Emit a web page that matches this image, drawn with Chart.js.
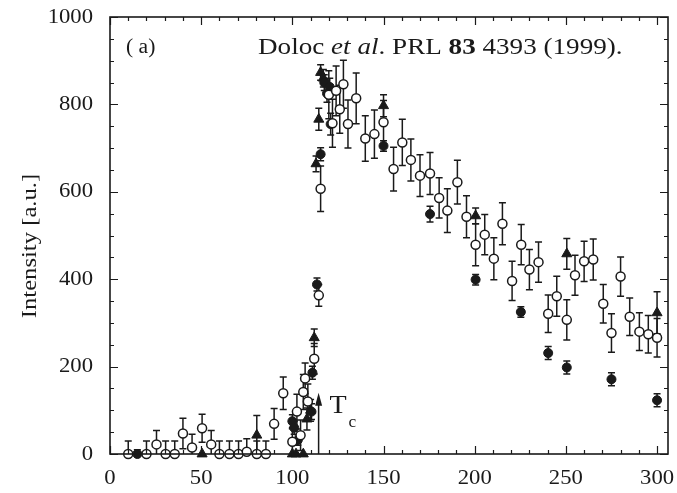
<!DOCTYPE html>
<html>
<head>
<meta charset="utf-8">
<script src="https://cdn.jsdelivr.net/npm/chart.js@4"></script>
<style>
  html, body { margin: 0; padding: 0; background: #fff; }
</style>
</head>
<body>
<canvas id="chart" width="677" height="493"></canvas>
<script>
// Temperature (K) axis values and measured intensities (a.u.) with their error bars.
const openT   = [10, 20, 25.5, 30.5, 35.5, 40, 45, 50.5, 55.5, 60, 65.5, 70.5, 75, 80.5, 85.5, 90, 95,
                 100, 102.5, 104.5, 106, 107, 108.5, 112, 114.5, 115.5, 120, 122, 124, 126, 128, 130.5,
                 135, 140, 145, 150, 155.5, 160.3, 165, 170, 175.5, 180.5, 185, 190.5, 195.5, 200.5,
                 205.5, 210.5, 215.2, 220.5, 225.5, 230, 235, 240.3, 245, 250.5, 255, 260, 265, 270.5,
                 275, 280, 285, 290.3, 295.2, 300];
const openI   = [0, 0, 22, 0, 0, 47, 15, 59, 22, 0, 0, 0, 5, 0, 0, 69, 139,
                 28, 97, 43, 142, 173, 120, 218, 363, 607, 822, 757, 831, 789, 846, 755,
                 814, 722, 732, 759, 652, 713, 673, 637, 642, 586, 557, 622, 543, 479,
                 502, 447, 527, 396, 479, 422, 439, 321, 361, 307, 409, 441, 445, 344,
                 277, 406, 314, 280, 274, 266];
const openErr = [30, 30, 32, 30, 30, 35, 30, 32, 32, 30, 30, 30, 30, 30, 30, 35, 37,
                 30, 40, 35, 40, 35, 40, 35, 25, 52, 55, 55, 57, 55, 55, 55,
                 58, 52, 55, 50, 50, 53, 48, 48, 48, 46, 50, 50, 48, 48,
                 46, 48, 48, 45, 46, 46, 46, 43, 46, 46, 46, 46, 47, 44,
                 44, 45, 43, 43, 43, 44];

const filledT   = [15, 100, 101, 103, 110.5, 111, 113.5, 115.5, 117.5, 119, 120.5, 121,
                   150, 175.5, 200.5, 225.3, 240.3, 250.5, 275, 300];
const filledI   = [0, 75, 60, 32, 97, 186, 388, 686, 850, 825, 840, 755,
                   705, 549, 399, 325, 231, 198, 171, 123];
const filledErr = [10, 15, 15, 12, 18, 15, 15, 15, 18, 20, 20, 25,
                   12, 18, 12, 12, 15, 15, 15, 15];

const triT   = [50.5, 80.5, 100, 102, 106, 108, 110, 112, 113, 114.5, 115.5, 117,
                150, 200.5, 250.5, 300];
const triI   = [0, 43, 0, 0, 0, 80, 100, 266, 664, 766, 873, 860,
                797, 545, 458, 323];
const triErr = [0, 45, 0, 0, 0, 25, 25, 20, 18, 25, 18, 20,
                25, 18, 35, 48];

// Axis ranges and tick labels
const xTickLabels = [0, 50, 100, 150, 200, 250, 300];
const yTickLabels = [0, 200, 400, 600, 800, 1000];
const xRange = [0, 306];
const yRange = [0, 1000];
const tcT = 114.4;      // transition temperature marker
const tcArrowTop = 140;

const INK = '#1a1a1a';
const SERIF = '"Liberation Serif", "Times New Roman", serif';
const SX = 1.08;        // horizontal text stretch

function toPoints(xs, ys) { return xs.map((x, i) => ({ x: x, y: ys[i] })); }

function stretchedText(ctx, str, x, y, align, sx) {
  ctx.save();
  ctx.translate(x, y);
  ctx.scale(sx || SX, 1);
  ctx.textAlign = align;
  ctx.fillText(str, 0, 0);
  ctx.restore();
}

const errorSets = [openErr, filledErr, triErr];

const decorations = {
  id: 'decorations',
  beforeDatasetsDraw(chart) {
    const ctx = chart.ctx;
    const xs = chart.scales.x, ys = chart.scales.y;
    ctx.save();
    ctx.strokeStyle = INK;
    ctx.lineWidth = 1.5;
    chart.data.datasets.forEach((ds, di) => {
      const errs = errorSets[di];
      ds.data.forEach((p, i) => {
        const e = errs[i];
        if (!e) return;
        const px = xs.getPixelForValue(p.x);
        const top = ys.getPixelForValue(Math.min(p.y + e, yRange[1]));
        const bot = ys.getPixelForValue(Math.max(p.y - e, yRange[0]));
        ctx.beginPath();
        ctx.moveTo(px, top); ctx.lineTo(px, bot);
        ctx.moveTo(px - 3.5, top); ctx.lineTo(px + 3.5, top);
        if (p.y - e > yRange[0]) { ctx.moveTo(px - 3.5, bot); ctx.lineTo(px + 3.5, bot); }
        ctx.stroke();
      });
    });
    ctx.restore();
  },
  afterDatasetsDraw(chart) {
    const ctx = chart.ctx;
    const a = chart.chartArea;
    const xs = chart.scales.x, ys = chart.scales.y;
    ctx.save();
    ctx.strokeStyle = INK;
    ctx.fillStyle = INK;

    // frame
    ctx.lineWidth = 1.6;
    ctx.strokeRect(a.left, a.top, a.right - a.left, a.bottom - a.top);

    // inward ticks on all four sides
    ctx.lineWidth = 1.2;
    ctx.beginPath();
    for (let v = 0; v <= 300; v += 10) {
      const px = Math.round(xs.getPixelForValue(v)) + 0.5;
      const len = v % 50 === 0 ? 8 : 4;
      ctx.moveTo(px, a.bottom); ctx.lineTo(px, a.bottom - len);
      ctx.moveTo(px, a.top); ctx.lineTo(px, a.top + len);
    }
    for (let v = 0; v <= 1000; v += 50) {
      const py = Math.round(ys.getPixelForValue(v)) + 0.5;
      const len = v % 200 === 0 ? 8 : 4;
      ctx.moveTo(a.left, py); ctx.lineTo(a.left + len, py);
      ctx.moveTo(a.right, py); ctx.lineTo(a.right - len, py);
    }
    ctx.stroke();

    // tick labels
    ctx.font = '21px ' + SERIF;
    ctx.textBaseline = 'middle';
    xTickLabels.forEach(v => stretchedText(ctx, String(v), xs.getPixelForValue(v), 478, 'center'));
    yTickLabels.forEach(v => stretchedText(ctx, String(v), 93, ys.getPixelForValue(v), 'right'));

    // y-axis title
    ctx.save();
    ctx.translate(30, 246);
    ctx.rotate(-Math.PI / 2);
    ctx.scale(1.12, 1);
    ctx.font = '22px ' + SERIF;
    ctx.textAlign = 'center';
    ctx.textBaseline = 'middle';
    ctx.fillText('Intensity [a.u.]', 0, 0);
    ctx.restore();

    // panel label and citation
    ctx.textBaseline = 'alphabetic';
    ctx.font = '20px ' + SERIF;
    stretchedText(ctx, '( a)', 126, 53, 'left');

    const parts = [
      ['Doloc ', ''], ['et al', 'italic '], ['. PRL ', ''], ['83', 'bold '], [' 4393 (1999).', '']
    ];
    const citeSX = 1.13;
    let cx = 258;
    parts.forEach(([txt, style]) => {
      ctx.font = style + '24px ' + SERIF;
      stretchedText(ctx, txt, cx, 54, 'left', citeSX);
      cx += ctx.measureText(txt).width * citeSX;
    });

    // Tc arrow
    const tx = xs.getPixelForValue(tcT);
    const y0 = ys.getPixelForValue(0);
    const y1 = ys.getPixelForValue(tcArrowTop);
    ctx.lineWidth = 1.5;
    ctx.beginPath();
    ctx.moveTo(tx, y0); ctx.lineTo(tx, y1 + 6);
    ctx.stroke();
    ctx.beginPath();
    ctx.moveTo(tx, y1); ctx.lineTo(tx - 3.5, y1 + 13); ctx.lineTo(tx + 3.5, y1 + 13);
    ctx.closePath();
    ctx.fill();
    ctx.font = '26px ' + SERIF;
    stretchedText(ctx, 'T', tx + 11, y1 + 20, 'left');
    ctx.font = '16px ' + SERIF;
    stretchedText(ctx, 'c', tx + 30, y1 + 34, 'left');

    ctx.restore();
  }
};

new Chart(document.getElementById('chart'), {
  type: 'scatter',
  data: {
    datasets: [
      {
        label: 'open',
        data: toPoints(openT, openI),
        pointStyle: 'circle',
        pointRadius: 4.5,
        backgroundColor: '#fff',
        borderColor: INK,
        borderWidth: 1.5,
        clip: false
      },
      {
        label: 'filled',
        data: toPoints(filledT, filledI),
        pointStyle: 'circle',
        pointRadius: 4.5,
        backgroundColor: INK,
        borderColor: INK,
        borderWidth: 1,
        clip: false
      },
      {
        label: 'triangle',
        data: toPoints(triT, triI),
        pointStyle: 'triangle',
        pointRadius: 5.8,
        backgroundColor: INK,
        borderColor: INK,
        borderWidth: 1,
        clip: false
      }
    ]
  },
  options: {
    responsive: false,
    animation: false,
    events: [],
    layout: { padding: { top: 17, right: 9, left: 0, bottom: 0 } },
    plugins: { legend: { display: false }, tooltip: { enabled: false } },
    scales: {
      x: {
        type: 'linear', min: xRange[0], max: xRange[1],
        ticks: { display: false }, grid: { display: false }, border: { display: false },
        afterFit(s) { s.height = 39; }
      },
      y: {
        type: 'linear', min: yRange[0], max: yRange[1],
        ticks: { display: false }, grid: { display: false }, border: { display: false },
        afterFit(s) { s.width = 110; }
      }
    }
  },
  plugins: [decorations]
});
</script>
</body>
</html>
